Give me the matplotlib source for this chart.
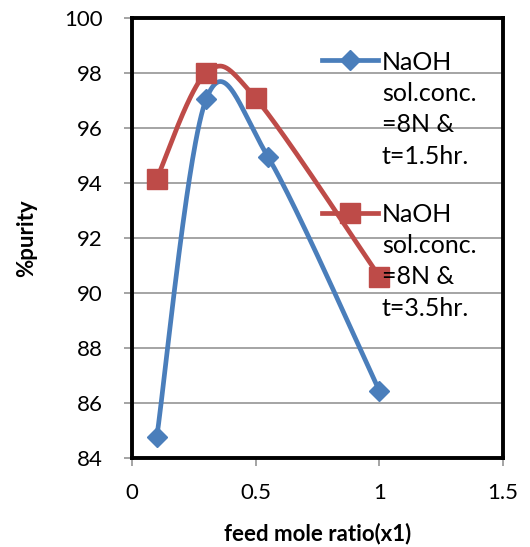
import numpy as np
import matplotlib
matplotlib.use("Agg")
import matplotlib.pyplot as plt

# ---- data ----
x_blue = [0.1, 0.3, 0.55, 1.0]
y_blue = [84.75, 97.05, 94.95, 86.45]
x_red = [0.1, 0.3, 0.5, 1.0]
y_red = [94.15, 98.0, 97.08, 90.6]
label_blue = "NaOH\nsol.conc.\n=8N &\nt=1.5hr."
label_red = "NaOH\nsol.conc.\n=8N &\nt=3.5hr."
x_ticks = [0, 0.5, 1, 1.5]
x_ticklabels = ["0", "0.5", "1", "1.5"]
y_ticks = [84, 86, 88, 90, 92, 94, 96, 98, 100]
x_label = "feed mole ratio(x1)"
y_label = "%purity"

plt.rcParams['font.family'] = ['Lato', 'DejaVu Sans']


def smooth(xs, ys, n=60):
    """Excel-style smoothed line (cubic Bezier with Catmull-Rom controls)."""
    P = np.column_stack([xs, ys]).astype(float)
    m = len(P)
    out = []
    for i in range(m - 1):
        p0 = P[i - 1] if i > 0 else P[i]
        p1 = P[i]
        p2 = P[i + 1]
        p3 = P[i + 2] if i + 2 < m else P[i + 1]
        c1 = p1 + (p2 - p0) / 6.0
        c2 = p2 - (p3 - p1) / 6.0
        t = np.linspace(0, 1, n)[:, None]
        seg = ((1 - t) ** 3) * p1 + 3 * ((1 - t) ** 2) * t * c1 + 3 * (1 - t) * t ** 2 * c2 + t ** 3 * p2
        out.append(seg if i == 0 else seg[1:])
    out = np.vstack(out)
    return out[:, 0], out[:, 1]


blue = "#4A7EBB"
red = "#BE4B48"

fig = plt.figure(figsize=(5.3, 5.47), dpi=100)
ax = fig.add_axes([132 / 530, 1 - 458 / 547, (503 - 132) / 530, (458 - 18) / 547])

bx, by = smooth(x_blue, y_blue)
rx, ry = smooth(x_red, y_red)
ax.plot(bx, by, color=blue, lw=3.4, solid_capstyle='round', zorder=3)
ax.plot(x_blue, y_blue, ls='none', marker='D', ms=10, color=blue, zorder=4)
ax.plot(rx, ry, color=red, lw=3.4, solid_capstyle='round', zorder=3)
ax.plot(x_red, y_red, ls='none', marker='s', ms=14, color=red, zorder=4)

# legend proxies
hb, = ax.plot([], [], color=blue, lw=3.4, marker='D', ms=10, label=label_blue)
hr, = ax.plot([], [], color=red, lw=3.4, marker='s', ms=14, label=label_red)

ax.set_xlim(0, 1.5)
ax.set_ylim(84, 100)
ax.set_xticks(x_ticks)
ax.set_xticklabels(x_ticklabels)
ax.set_yticks(y_ticks)
ax.yaxis.grid(True, color="#8C8C8C", lw=1.1)
ax.set_axisbelow(True)
ax.tick_params(axis='both', direction='out', length=6, width=1.1, color="#8C8C8C",
               labelsize=16)
ax.tick_params(axis='x', pad=12)
ax.tick_params(axis='y', pad=15)
for s in ax.spines.values():
    s.set_color("black")
    s.set_linewidth(2.8)

ax.set_xlabel(x_label, fontsize=16, fontweight='bold')
ax.set_ylabel(y_label, fontsize=16, fontweight='bold')
ax.xaxis.set_label_coords(0.5, -0.148)
ax.yaxis.set_label_coords(-0.255, 0.5)

leg = ax.legend(handles=[hb, hr], loc='upper left', bbox_to_anchor=(0.512, 0.926),
                frameon=False, fontsize=18, handlelength=2.24, handletextpad=0.16,
                borderpad=0, borderaxespad=0, labelspacing=1.4, handleheight=1.0)
for t in leg.get_texts():
    t.set_linespacing(1.44)
leg.set_zorder(5)
for col in leg._legend_handle_box.get_children():
    for hp in col.get_children():
        hp.align = "top"

fig.savefig("out.png", dpi=100)
